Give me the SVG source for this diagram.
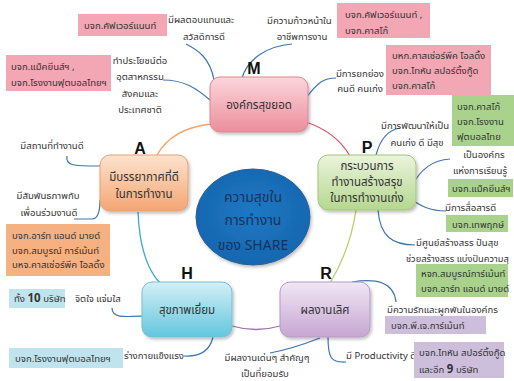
<svg xmlns="http://www.w3.org/2000/svg" width="514" height="381" viewBox="0 0 514 381">
<defs>
<linearGradient id="gM" x1="0" y1="0" x2="0" y2="1"><stop offset="0" stop-color="#fbd6db"/><stop offset="1" stop-color="#ec8e9c"/></linearGradient>
<linearGradient id="gA" x1="0" y1="0" x2="0" y2="1"><stop offset="0" stop-color="#fde3cf"/><stop offset="1" stop-color="#f4a572"/></linearGradient>
<linearGradient id="gP" x1="0" y1="0" x2="0" y2="1"><stop offset="0" stop-color="#eaf4dc"/><stop offset="1" stop-color="#b6d78f"/></linearGradient>
<linearGradient id="gH" x1="0" y1="0" x2="0" y2="1"><stop offset="0" stop-color="#d3f0f6"/><stop offset="1" stop-color="#62c6de"/></linearGradient>
<linearGradient id="gR" x1="0" y1="0" x2="0" y2="1"><stop offset="0" stop-color="#f1e7f5"/><stop offset="1" stop-color="#c6a6d2"/></linearGradient>
<radialGradient id="gC" cx="0.5" cy="0.45" r="0.6"><stop offset="0" stop-color="#1f78c4"/><stop offset="1" stop-color="#1565ad"/></radialGradient>
<filter id="sh" x="-10%" y="-10%" width="130%" height="130%"><feDropShadow dx="1.5" dy="2" stdDeviation="1.5" flood-color="#000" flood-opacity="0.25"/></filter>
</defs>
<style>
text{font-family:"Noto Sans Thai","Tahoma","Noto Sans","DejaVu Sans",sans-serif;fill:#333;}
.s{font-size:9.6px;}
.n{font-size:11.5px;text-anchor:middle;fill:#333;}
.c{font-size:14px;text-anchor:middle;fill:#17325c;}
.L{font-size:16px;font-weight:bold;text-anchor:middle;fill:#111;font-family:"Liberation Sans",Arial,sans-serif;}
.m{text-anchor:middle;}
.pk{fill:#f3a6b4;}
.gr{fill:#a9d38c;}
.or{fill:#f6b183;}
.bl{fill:#bfe4ee;}
.pu{fill:#cdbfdc;}
.br{fill:none;stroke:#3f76ad;stroke-width:1.2;}
.nd{stroke-width:1;filter:url(#sh);}
</style>
<rect width="514" height="381" fill="#fff"/>

<g id="connectors">
<path d="M157 155 Q172 128 212 124" fill="none" stroke="#f3a36b" stroke-width="1.3"/>
<path d="M306 122 Q336 132 350 156" fill="none" stroke="#d9596d" stroke-width="1.3"/>
<path d="M356 210 Q350 250 330 283" fill="none" stroke="#b9cf6a" stroke-width="1.3"/>
<path d="M138 212 Q140 262 160 283" fill="none" stroke="#3aa8cc" stroke-width="1.3"/>
<path d="M232 326 Q256 333 280 326" fill="none" stroke="#9a72ad" stroke-width="1.3"/>
<path class="br" d="M214 80 C210 58 198 50 186 44"/>
<path class="br" d="M242 78 C248 58 268 46 292 44"/>
<path class="br" d="M210 100 C196 88 184 80 163 80"/>
<path class="br" d="M306 98 C318 82 324 78 336 78"/>
<path class="br" d="M67 156 C65 166 74 166 100 166"/>
<path class="br" d="M74 219 L92 219 C98 219 100 210 100 200"/>
<path class="br" d="M400 128 C388 130 380 140 376 155"/>
<path class="br" d="M412 186 C420 170 432 160 450 159"/>
<path class="br" d="M410 198 C420 206 430 211 446 211"/>
<path class="br" d="M378 210 C380 236 392 245 415 245"/>
<path class="br" d="M352 282 C376 278 394 282 396 302"/>
<path class="br" d="M328 337 C328 358 331 363 346 362"/>
<path class="br" d="M320 338 C302 345 286 350 270 353"/>
<path class="br" d="M213 337 C210 350 200 357 184 356"/>
<path class="br" d="M112 308 C112 318 124 317 142 316"/>
</g>

<g id="center">
<ellipse cx="253" cy="217" rx="57" ry="48" fill="url(#gC)" stroke="#2b5f94" stroke-width="1" filter="url(#sh)"/>
<text class="c" x="253" y="202">ความสุขใน</text>
<text class="c" x="253" y="225">การทำงาน</text>
<text class="c" x="253" y="250">ของ SHARE</text>
</g>

<g id="nodeM">
<rect class="nd" x="210" y="77" width="98" height="55" rx="10" fill="url(#gM)" stroke="#dc8794"/>
<text class="n" x="259" y="109">องค์กรสุขยอด</text>
<text class="L" x="254" y="74">M</text>
</g>

<g id="nodeA">
<rect class="nd" x="100" y="155" width="88" height="56" rx="10" fill="url(#gA)" stroke="#e3a272"/>
<text class="n" x="144" y="181">มีบรรยากาศที่ดี</text>
<text class="n" x="144" y="198">ในการทำงาน</text>
<text class="L" x="140" y="154">A</text>
</g>

<g id="nodeP">
<rect class="nd" x="318" y="155" width="98" height="55" rx="10" fill="url(#gP)" stroke="#a3c47e"/>
<text class="n" x="367" y="170">กระบวนการ</text>
<text class="n" x="367" y="186">ทำงานสร้างสรุข</text>
<text class="n" x="367" y="202">ในการทำงานเก่ง</text>
<text class="L" x="367" y="153">P</text>
</g>

<g id="nodeH">
<rect class="nd" x="142" y="282" width="90" height="55" rx="10" fill="url(#gH)" stroke="#77bfd2"/>
<text class="n" x="187" y="314">สุขภาพเยี่ยม</text>
<text class="L" x="187" y="279">H</text>
</g>

<g id="nodeR">
<rect class="nd" x="280" y="282" width="90" height="55" rx="10" fill="url(#gR)" stroke="#b59ac3"/>
<text class="n" x="325" y="314">ผลงานเลิศ</text>
<text class="L" x="326" y="279">R</text>
</g>

<g id="labels">
<rect class="pk" x="78" y="14" width="89" height="22"/>
<text class="s" x="84" y="29">บจก.คัฟเวอร์แนนท์</text>
<rect class="pk" x="6" y="55" width="105" height="36"/>
<text class="s" x="11" y="70">บจก.แม็คยีนส์ฯ ,</text>
<text class="s" x="11" y="86">บจก.โรงงานฟุตบอลไทยฯ</text>
<text class="s m" x="140" y="64">ทำประโยชน์ต่อ</text>
<text class="s m" x="140" y="80">อุตสาหกรรม</text>
<text class="s m" x="140" y="97">สังคมและ</text>
<text class="s m" x="140" y="113">ประเทศชาติ</text>
<text class="s" x="168" y="23">มีผลตอบแทนและ</text>
<text class="s m" x="204" y="40">สวัสดิการดี</text>
<text class="s" x="267" y="24">มีความก้าวหน้าใน</text>
<text class="s m" x="302" y="40">อาชีพการงาน</text>
<rect class="pk" x="337" y="3" width="93" height="35"/>
<text class="s" x="345" y="18">บจก.คัฟเวอร์แนนท์ ,</text>
<text class="s" x="345" y="34">บจก.คาสโก้</text>
<rect class="pk" x="386" y="45" width="105" height="50"/>
<text class="s" x="392" y="59">บหก.คาสเซ่อร์พีค โอลดิ้ง</text>
<text class="s" x="392" y="74">บจก.ไทหัน สปอร์ติ้งกู๊ด</text>
<text class="s" x="392" y="89">บจก.คาสโก้</text>
<text class="s m" x="360" y="77">มีการยกย่อง</text>
<text class="s m" x="360" y="92">คนดี คนเก่ง</text>
<rect class="gr" x="452" y="95" width="62" height="51"/>
<text class="s" x="457" y="110">บจก.คาสโก้</text>
<text class="s" x="457" y="125">บจก.โรงงาน</text>
<text class="s" x="457" y="140">ฟุตบอลไทย</text>
<text class="s" x="381" y="129">มีการพัฒนาให้เป็น</text>
<text class="s m" x="417" y="146">คนเก่ง ดี มีสุข</text>
<text class="s m" x="484" y="158">เป็นองค์กร</text>
<text class="s m" x="480" y="174">แห่งการเรียนรู้</text>
<rect class="gr" x="448" y="179" width="65" height="18"/>
<text class="s" x="452" y="192">บจก.แม็คยีนส์ฯ</text>
<text class="s" x="445" y="211">มีการสื่อสารดี</text>
<rect class="gr" x="446" y="215" width="62" height="17"/>
<text class="s" x="452" y="228">บจก.เทพฤกษ์</text>
<text class="s" x="416" y="246">มีศูนย์สร้างสรร ปันสุข</text>
<text class="s" x="406" y="262" style="font-size:9.3px">ช่วยสร้างสรร แบ่งปันความสุ</text>
<rect class="gr" x="416" y="264" width="92" height="33"/>
<text class="s" x="421" y="277">หจก.สมบูรณ์การ์เม้นท์</text>
<text class="s" x="421" y="292">บจก.อาร์ท แอนด์ มายด์</text>
<text class="s" x="387" y="313">มีความรักและผูกพันในองค์กร</text>
<rect class="pu" x="385" y="316" width="101" height="18"/>
<text class="s" x="391" y="329">บจก.พี.เจ.การ์เม้นท์</text>
<text class="s" x="346" y="359">มี Productivity ดี</text>
<rect class="pu" x="414" y="342" width="90" height="36"/>
<text class="s" x="419" y="356">บจก.ไทหัน สปอร์ติ้งกู๊ด</text>
<text class="s" x="419" y="373">และอีก <tspan font-weight="bold" font-size="11.5px">9</tspan> บริษัท</text>
<text class="s m" x="267" y="361">มีผลงานเด่นๆ สำคัญๆ</text>
<text class="s m" x="265" y="377">เป็นที่ยอมรับ</text>
<text class="s" x="124" y="359">ร่างกายแข็งแรง</text>
<rect class="bl" x="9" y="348" width="114" height="20"/>
<text class="s" x="15" y="362">บจก.โรงงานฟุตบอลไทยฯ</text>
<rect class="bl" x="9" y="289" width="56" height="19"/>
<text class="s" x="14" y="302">ทั้ง <tspan font-weight="bold" font-size="11.5px">10</tspan> บริษัท</text>
<text class="s" x="75" y="302">จิตใจ แจ่มใส</text>
<rect class="or" x="6" y="224" width="104" height="52"/>
<text class="s" x="12" y="239">บจก.อาร์ท แอนด์ มายด์</text>
<text class="s" x="12" y="254">บจก.สมบูรณ์ การ์เม้นท์</text>
<text class="s" x="12" y="268">บหจ.คาสเซ่อร์พีค โอลดิ้ง</text>
<text class="s m" x="48" y="199">มีสัมพันธภาพกับ</text>
<text class="s m" x="49" y="216">เพื่อนร่วมงานดี</text>
<text class="s m" x="52" y="149">มีสถานที่ทำงานดี</text>
</g>
</svg>
